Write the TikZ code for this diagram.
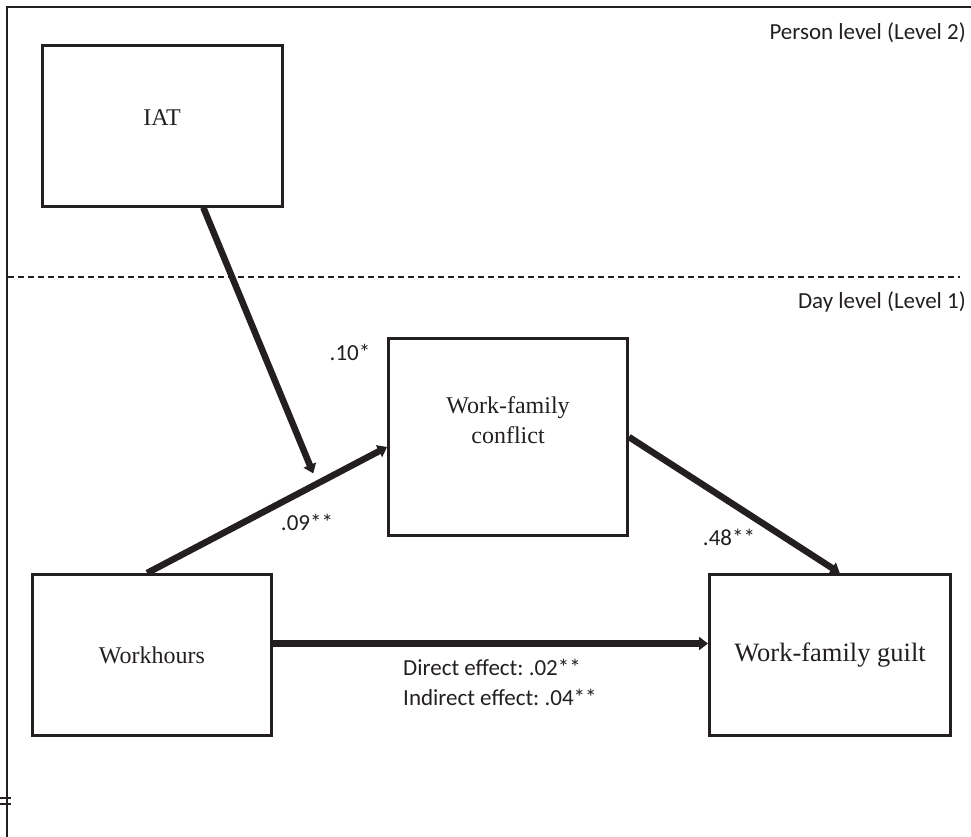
\documentclass[tikz,border=0pt]{standalone}
\usepackage{fontspec}
\setmainfont{Liberation Serif}
\newfontfamily\calibri{Carlito}
\usetikzlibrary{calc,arrows.meta}
\definecolor{ink}{RGB}{35,31,32}
\frenchspacing

\begin{document}
\begin{tikzpicture}[x=1pt,y=-1pt,color=ink,
    box/.style={draw, line width=3pt, inner sep=0pt, align=center,
      font=\fontsize{24}{30}\selectfont},
    path/.style={line width=6.5pt, -{Triangle[length=9pt,width=13pt]}},
    coef/.style={font=\calibri\fontsize{23}{30}\selectfont, inner sep=0pt},
    frame/.style={line width=2.5pt}]
  \useasboundingbox (0,0) rectangle (971,837);
  \draw[frame] (7,837) -- (7,7) -- (971,7);
  \draw[line width=1.5pt] (0,798) -- (11,798) (0,804) -- (11,804);
  \draw[line width=1.2pt, dash pattern=on 6pt off 4pt] (8,277) -- (960,277);

  \node[box, minimum width=240pt, minimum height=160pt, text depth=16pt] (iat) at (162,126) {IAT};
  \node[box, minimum width=239pt, minimum height=197pt, text depth=34pt] (wfc) at (508,437) {Work-family\\conflict};
  \node[box, minimum width=239pt, minimum height=161pt] (wh) at (152,655) {Workhours};
  \node[box, minimum width=241pt, minimum height=161pt, font=\fontsize{26.5}{30}\selectfont] (wfg) at (830,655) {Work-family guilt};

  \node[coef, anchor=east] (lvl2) at (966,33) {Person level (Level 2)};
  \node[coef, anchor=east] (lvl1) at (966,302) {Day level (Level 1)};

  \draw[path] ($(wh.north west)!0.48!(wh.north east)$) -- coordinate[pos=0.71] (hit)
    ($(wfc.north west)!0.55!(wfc.south west)$);
  \draw[path, shorten >=11pt] ($(iat.south west)!0.67!(iat.south east)$) -- (hit);
  \draw[path] (wfc.east) -- ($(wfg.north west)!0.54!(wfg.north east)$);
  \draw[path] ($(wh.north east)!0.43!(wh.south east)$) coordinate (d) -- (d -| wfg.west);

  \node[coef] (c10) at (350,352) {.10*};
  \node[coef] (c09) at (307,522) {.09**};
  \node[coef] (c48) at (729,537) {.48**};
  \node[coef, anchor=west, align=left] (eff) at (403,682) {Direct effect: .02**\\Indirect effect: .04**};
\end{tikzpicture}
\end{document}
